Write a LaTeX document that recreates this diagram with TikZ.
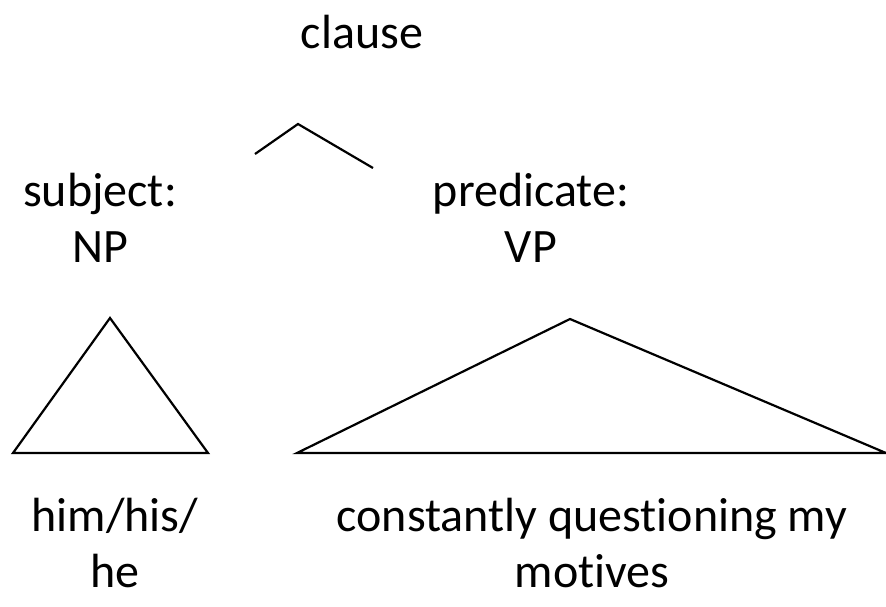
\documentclass[tikz,border=0pt]{standalone}
\usepackage{fontspec}
\setmainfont[Ligatures={NoCommon}]{Carlito}
\tikzset{word/.style={font=\fontsize{48}{56}\selectfont,align=center,inner sep=0pt}}
\begin{document}
\begin{tikzpicture}[x=1pt,y=-1pt,line width=2.2pt,line join=miter]
    \useasboundingbox (0,0) rectangle (886,606);
    %% labels
    \node[word] (clause) at (362,32) {clause};
    \node[word] (subj) at (100,218) {subject:\\NP};
    \node[word] (pred) at (531,218) {predicate:\\VP};
    \node[word] (him) at (115,543) {him/his/\\he};
    \node[word] (cqm) at (592,543) {constantly questioning my\\motives};
    %% branch under clause
    \coordinate (top) at (298,124);
    \draw (255,154) -- (top) -- (373,168);
    %% left triangle
    \draw (110,318) -- (208,453) -- (13,453) -- cycle;
    %% right triangle
    \draw (570,319) -- (886,453) -- (297,453) -- cycle;
\end{tikzpicture}
\end{document}
